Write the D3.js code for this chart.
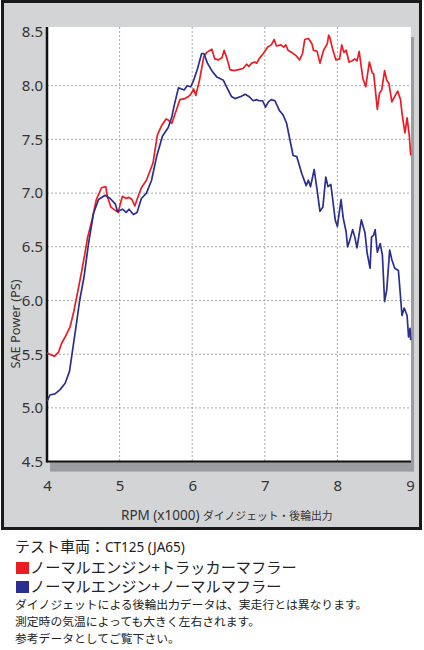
<!DOCTYPE html>
<html>
<head>
<meta charset="utf-8">
<script src="https://cdn.jsdelivr.net/npm/d3@7"></script>
<style>
  body { margin: 0; background: #fff; }
  svg text { font-family: "Noto Sans", "Noto Sans CJK JP", sans-serif; }
  .jp { font-family: "Noto Sans CJK JP", sans-serif; }
</style>
</head>
<body>
<svg id="chart" width="424" height="650"></svg>
<script>
// dyno curves (rpm x1000, SAE PS)
var redRpm = [4.00,4.04,4.10,4.16,4.20,4.25,4.32,4.37,4.42,4.48,4.52,4.56,4.62,4.68,4.75,4.81,4.83,4.88,4.98,5.01,
  5.04,5.09,5.13,5.17,5.21,5.24,5.30,5.37,5.46,5.52,5.58,5.64,5.67,5.72,5.76,5.83,5.90,5.95,5.98,6.02,
  6.05,6.10,6.16,6.20,6.27,6.31,6.36,6.41,6.44,6.48,6.52,6.58,6.64,6.70,6.75,6.78,6.82,6.86,6.89,6.92,
  6.98,7.04,7.09,7.13,7.16,7.22,7.26,7.29,7.32,7.37,7.43,7.48,7.52,7.55,7.60,7.65,7.67,7.72,7.76,7.81,
  7.86,7.88,7.90,7.93,7.98,8.03,8.06,8.09,8.12,8.16,8.20,8.24,8.27,8.30,8.35,8.39,8.44,8.48,8.50,8.55,
  8.58,8.61,8.65,8.68,8.71,8.75,8.79,8.83,8.87,8.89,8.93,8.96,8.99,9.01];
var redPower = [5.51,5.50,5.48,5.52,5.60,5.66,5.76,5.90,6.07,6.28,6.43,6.59,6.75,6.94,7.05,7.06,6.97,6.87,6.82,6.90,
  6.97,6.95,6.96,6.94,6.88,6.94,7.05,7.12,7.28,7.54,7.63,7.69,7.68,7.65,7.73,7.87,7.88,7.90,7.92,7.97,
  7.91,8.05,8.27,8.31,8.34,8.25,8.24,8.26,8.33,8.25,8.15,8.14,8.15,8.16,8.20,8.18,8.21,8.22,8.21,8.25,
  8.30,8.36,8.38,8.43,8.37,8.38,8.36,8.38,8.33,8.31,8.28,8.24,8.30,8.43,8.44,8.39,8.33,8.32,8.21,8.33,
  8.39,8.47,8.44,8.35,8.24,8.25,8.38,8.31,8.33,8.22,8.23,8.25,8.23,8.32,8.07,7.99,8.22,8.12,8.11,7.78,
  7.93,7.96,8.14,8.05,8.02,7.85,7.90,7.95,7.87,7.74,7.56,7.70,7.54,7.35];

var blueRpm = [4.00,4.04,4.11,4.18,4.25,4.31,4.34,4.40,4.45,4.51,4.57,4.64,4.71,4.80,4.87,4.94,4.97,5.01,5.04,5.09,
  5.13,5.19,5.24,5.30,5.37,5.44,5.51,5.59,5.67,5.72,5.75,5.81,5.89,5.93,5.98,6.02,6.07,6.13,6.16,6.21,
  6.27,6.34,6.43,6.48,6.54,6.59,6.67,6.73,6.78,6.84,6.89,6.92,6.97,7.01,7.05,7.09,7.14,7.20,7.25,7.30,
  7.33,7.36,7.39,7.44,7.51,7.57,7.60,7.63,7.68,7.72,7.76,7.80,7.84,7.87,7.91,7.97,8.00,8.05,8.08,8.12,
  8.14,8.17,8.21,8.24,8.27,8.33,8.38,8.41,8.45,8.47,8.50,8.52,8.55,8.59,8.62,8.65,8.68,8.72,8.75,8.79,
  8.84,8.89,8.92,8.96,8.98,9.00,9.01];
var bluePower = [5.06,5.12,5.13,5.17,5.23,5.34,5.48,5.76,6.00,6.22,6.52,6.81,6.94,6.98,6.95,6.90,6.83,6.84,6.85,6.82,
  6.85,6.80,6.82,6.95,7.00,7.12,7.34,7.53,7.61,7.71,7.81,7.98,7.96,8.00,7.99,8.05,8.15,8.30,8.30,8.21,
  8.14,8.08,8.05,7.98,7.90,7.88,7.90,7.92,7.90,7.86,7.87,7.86,7.86,7.80,7.85,7.87,7.86,7.77,7.73,7.65,
  7.55,7.45,7.35,7.34,7.18,7.07,7.12,7.06,7.22,7.03,6.83,6.87,7.15,7.06,7.08,6.75,6.69,6.94,6.77,6.64,
  6.50,6.56,6.66,6.59,6.49,6.75,6.63,6.44,6.30,6.59,6.61,6.66,6.45,6.53,6.42,5.99,6.10,6.47,6.38,6.30,
  6.28,5.86,5.93,5.86,5.66,5.74,5.63];

var xTicks = [4, 5, 6, 7, 8, 9];
var yTicks = [4.5, 5.0, 5.5, 6.0, 6.5, 7.0, 7.5, 8.0, 8.5];
var seriesNames = ["ノーマルエンジン+トラッカーマフラー", "ノーマルエンジン+ノーマルマフラー"];
var seriesColors = ["#ec1c24", "#2b2f8f"];
var notes = ["ダイノジェットによる後輪出力データは、実走行とは異なります。",
  "測定時の気温によっても大きく左右されます。",
  "参考データとしてご覧下さい。"];

var svg = d3.select("#chart");

var x = d3.scaleLinear().domain([4, 9]).range([47, 410]);
var y = d3.scaleLinear().domain([4.5, 8.5]).range([461.6, 32]);

var plotTop = 27, plotRight = 411;

// outer panel
svg.append("rect")
    .attr("x", 2.5).attr("y", 1.5)
    .attr("width", 418).attr("height", 527)
    .attr("fill", "#d3d4d6")
    .attr("stroke", "#1a1a1a")
    .attr("stroke-width", 3);

// shadow under plot area
svg.append("rect")
    .attr("x", x(4) + 3).attr("y", plotTop + 10)
    .attr("width", plotRight - x(4)).attr("height", y(4.5) - plotTop)
    .attr("fill", "#9c9da0");

svg.append("rect")
    .attr("x", x(4)).attr("y", plotTop)
    .attr("width", plotRight - x(4)).attr("height", y(4.5) - plotTop)
    .attr("fill", "#fff");

// dotted grid
svg.append("g")
    .selectAll("line")
    .data(xTicks.filter(function(d) { return d > 4 && d < 9; }))
    .enter().append("line")
    .attr("x1", function(d) { return x(d); })
    .attr("x2", function(d) { return x(d); })
    .attr("y1", plotTop).attr("y2", y(4.5))
    .attr("stroke", "#a8a8a8")
    .attr("stroke-dasharray", "2,2");

svg.append("g")
    .selectAll("line")
    .data(yTicks.filter(function(d) { return d > 4.5 && d < 8.5; }))
    .enter().append("line")
    .attr("x1", x(4)).attr("x2", plotRight)
    .attr("y1", function(d) { return y(d); })
    .attr("y2", function(d) { return y(d); })
    .attr("stroke", "#a8a8a8")
    .attr("stroke-dasharray", "2,2");

// axes
var xAxis = svg.append("g")
    .attr("class", "x axis")
    .attr("transform", "translate(0," + y(4.5) + ")")
    .call(d3.axisBottom(x).tickValues(xTicks).tickSize(0).tickPadding(19).tickFormat(d3.format("d")));
xAxis.select(".domain").remove();

var yAxis = svg.append("g")
    .attr("class", "y axis")
    .attr("transform", "translate(" + x(4) + ",0)")
    .call(d3.axisLeft(y).tickValues(yTicks).tickSize(0).tickPadding(4).tickFormat(d3.format(".1f")));
yAxis.select(".domain").remove();

svg.selectAll(".axis text")
    .attr("font-size", 15)
    .attr("fill", "#333")
    .style("font-family", "'Noto Sans', sans-serif");

svg.append("line")
    .attr("x1", x(4)).attr("x2", x(4))
    .attr("y1", plotTop).attr("y2", y(4.5) + 1)
    .attr("stroke", "#111").attr("stroke-width", 2.5);
svg.append("line")
    .attr("x1", x(4)).attr("x2", plotRight)
    .attr("y1", y(4.5)).attr("y2", y(4.5))
    .attr("stroke", "#111").attr("stroke-width", 2);

// curves
var line = d3.line()
    .x(function(d) { return x(d[0]); })
    .y(function(d) { return y(d[1]); });

var redPts = redRpm.map(function(r, i) { return [r, redPower[i]]; });
var bluePts = blueRpm.map(function(r, i) { return [r, bluePower[i]]; });

svg.append("path")
    .datum(redPts)
    .attr("d", line)
    .attr("fill", "none")
    .attr("stroke", seriesColors[0])
    .attr("stroke-width", 1.7)
    .attr("stroke-linejoin", "round");

svg.append("path")
    .datum(bluePts)
    .attr("d", line)
    .attr("fill", "none")
    .attr("stroke", seriesColors[1])
    .attr("stroke-width", 1.7)
    .attr("stroke-linejoin", "round");

// axis titles
var xTitle = svg.append("text")
    .attr("x", 121).attr("y", 520)
    .attr("fill", "#333");
xTitle.append("tspan").attr("font-size", 13.5).text("RPM (x1000) ");
xTitle.append("tspan").attr("class", "jp").attr("font-size", 10.8).text("ダイノジェット・後輪出力");

svg.append("text")
    .attr("transform", "translate(20,324) rotate(-90)")
    .attr("text-anchor", "middle")
    .attr("font-size", 12.8)
    .attr("fill", "#333")
    .text("SAE Power (PS)");

// caption + legend
var cap = svg.append("text")
    .attr("x", 15).attr("y", 552)
    .attr("fill", "#222");
cap.append("tspan").attr("class", "jp").attr("font-size", 15).text("テスト車両：");
cap.append("tspan").attr("font-size", 13.5).text("CT125 (JA65)");

var leg = svg.append("g")
    .selectAll("g")
    .data(seriesNames)
    .enter().append("g")
    .attr("transform", function(d, i) { return "translate(16," + (573 + i * 19) + ")"; });

leg.append("rect")
    .attr("x", 0).attr("y", -11)
    .attr("width", 13).attr("height", 12)
    .attr("fill", function(d, i) { return seriesColors[i]; });

leg.append("text")
    .attr("class", "jp")
    .attr("x", 14).attr("y", 0)
    .attr("font-size", 15.2)
    .attr("fill", "#222")
    .text(function(d) { return d; });

svg.append("g")
    .selectAll("text")
    .data(notes)
    .enter().append("text")
    .attr("class", "jp")
    .attr("x", 15)
    .attr("y", function(d, i) { return 609 + i * 17; })
    .attr("font-size", 11.8)
    .attr("fill", "#222")
    .text(function(d) { return d; });
</script>
</body>
</html>
